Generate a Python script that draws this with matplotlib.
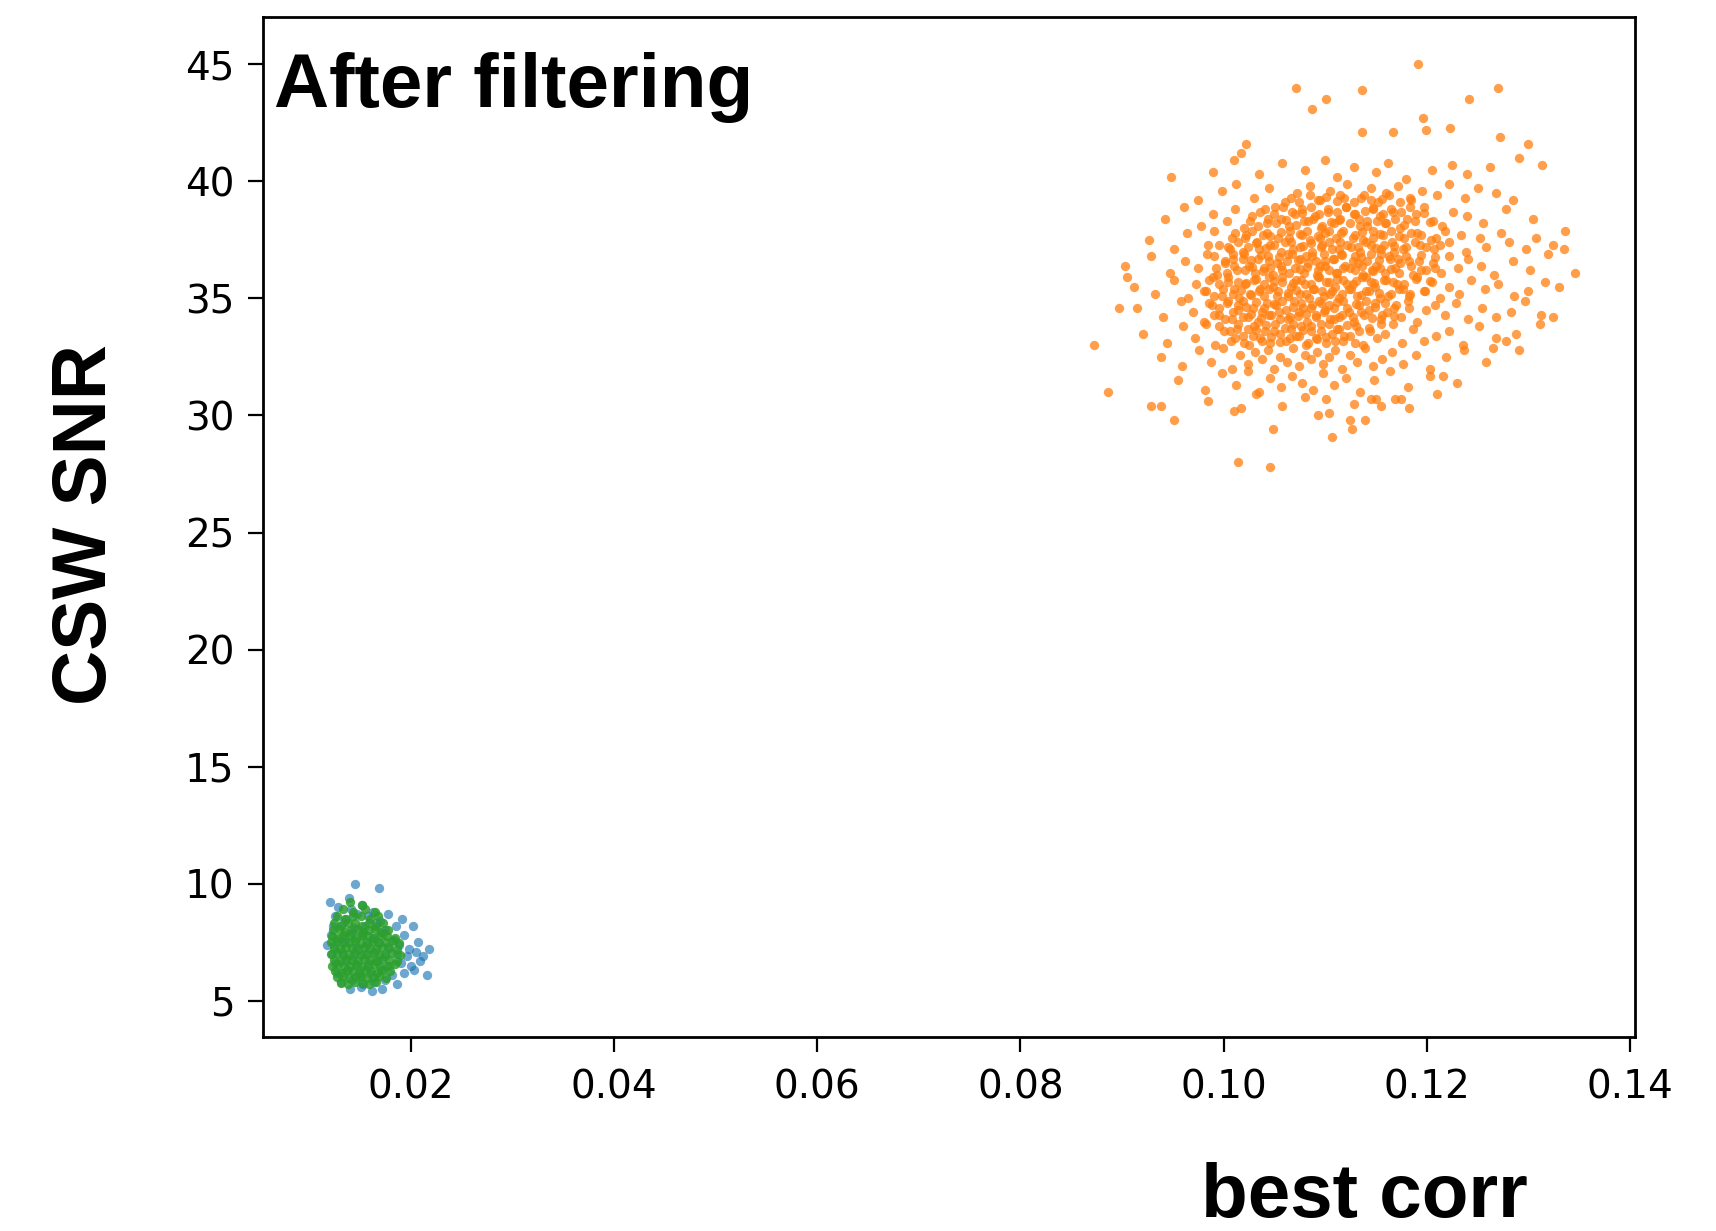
import matplotlib
matplotlib.use("Agg")
import matplotlib.pyplot as plt

# ---- data: best corr vs CSW SNR, three groups after filtering ----

# group 0 (blue)
blue_corr = [
    0.0145, 0.0169, 0.0120, 0.0139, 0.0191, 0.0202, 0.0218, 0.0216, 0.0118,
    0.0128, 0.0141, 0.0152, 0.0163,
    0.0125, 0.0136, 0.0147, 0.0158, 0.0170, 0.0178,
    0.0123, 0.0133, 0.0144, 0.0155, 0.0166, 0.0175, 0.0185,
    0.0121, 0.0131, 0.0142, 0.0152, 0.0163, 0.0173, 0.0183, 0.0193,
    0.0124, 0.0135, 0.0146, 0.0157, 0.0168, 0.0178, 0.0188, 0.0198, 0.0207,
    0.0122, 0.0132, 0.0143, 0.0154, 0.0165, 0.0175, 0.0186, 0.0196, 0.0205, 0.0212,
    0.0125, 0.0136, 0.0147, 0.0158, 0.0168, 0.0179, 0.0190, 0.0200, 0.0209,
    0.0127, 0.0138, 0.0149, 0.0160, 0.0171, 0.0182, 0.0193, 0.0203,
    0.0131, 0.0142, 0.0153, 0.0164, 0.0175, 0.0186,
    0.0140, 0.0151, 0.0162, 0.0172,
]
blue_snr = [
    10.0, 9.8, 9.2, 9.4, 8.5, 8.2, 7.2, 6.1, 7.4,
    9.0, 8.9, 9.1, 8.8,
    8.6, 8.5, 8.7, 8.6, 8.4, 8.7,
    8.2, 8.3, 8.1, 8.2, 8.3, 8.0, 8.2,
    7.8, 7.7, 7.9, 7.8, 7.7, 7.9, 7.6, 7.8,
    7.4, 7.5, 7.3, 7.4, 7.5, 7.3, 7.4, 7.2, 7.5,
    7.0, 7.1, 6.9, 7.0, 7.1, 6.9, 7.0, 6.9, 7.1, 6.9,
    6.6, 6.7, 6.5, 6.6, 6.7, 6.5, 6.6, 6.5, 6.7,
    6.2, 6.3, 6.1, 6.2, 6.3, 6.1, 6.2, 6.3,
    5.8, 5.9, 5.7, 5.8, 5.9, 5.7,
    5.5, 5.6, 5.4, 5.5,
]

# group 1 (orange)
orange_corr = [
    # sparse edge
    0.1191, 0.1071, 0.1136, 0.1101, 0.1087, 0.1270, 0.1242, 0.1196, 0.1199, 0.1223,
    0.1167, 0.1136, 0.1272, 0.1300, 0.1291, 0.1313, 0.0948, 0.1022, 0.1017, 0.1346,
    0.1335, 0.1324, 0.1311, 0.1291, 0.0872, 0.0886, 0.0897, 0.0905, 0.0929, 0.0938,
    0.0951, 0.1014, 0.1046, 0.1049, 0.1107, 0.1126, 0.1124, 0.1139, 0.1017, 0.1101,
    0.1093, 0.1155, 0.1169, 0.1175, 0.1145, 0.1216, 0.1265, 0.1278,
    # 40-41
    0.1035, 0.1058, 0.1080, 0.1100, 0.1112, 0.1128, 0.1150, 0.1162, 0.1180, 0.1205,
    0.1225, 0.1240, 0.1262, 0.0990, 0.1010,
    # 39-40
    0.0975, 0.0998, 0.1012, 0.1030, 0.1045, 0.1060, 0.1072, 0.1085, 0.1095, 0.1105,
    0.1115, 0.1122, 0.1135, 0.1145, 0.1152, 0.1160, 0.1172, 0.1185, 0.1195, 0.1210,
    0.1222, 0.1238, 0.1250, 0.1268, 0.1285,
    # 38-39
    0.0942, 0.0961, 0.0978, 0.0990, 0.1003, 0.1011, 0.1020, 0.1028, 0.1036, 0.1043,
    0.1051, 0.1057, 0.1064, 0.1070, 0.1077, 0.1083, 0.1090, 0.1096, 0.1103, 0.1109,
    0.1115, 0.1121, 0.1128, 0.1134, 0.1141, 0.1147, 0.1154, 0.1160, 0.1167, 0.1174,
    0.1181, 0.1189, 0.1197, 0.1206, 0.1215, 0.1226, 0.1240, 0.1255, 0.1278, 0.1305,
    # 37-38
    0.0927, 0.0951, 0.0964, 0.0985, 0.0991, 0.1004, 0.1008, 0.1019, 0.1022, 0.1033,
    0.1035, 0.1043, 0.1046, 0.1054, 0.1057, 0.1065, 0.1066, 0.1075, 0.1077, 0.1085,
    0.1087, 0.1095, 0.1097, 0.1104, 0.1107, 0.1115, 0.1116, 0.1125, 0.1127, 0.1134,
    0.1137, 0.1145, 0.1147, 0.1155, 0.1157, 0.1166, 0.1168, 0.1178, 0.1180, 0.1190,
    0.1193, 0.1204, 0.1207, 0.1218, 0.1222, 0.1234, 0.1239, 0.1252, 0.1258, 0.1273,
    0.1281, 0.1298, 0.1308, 0.1324, 0.1336,
    # 36-37
    0.0903, 0.0929, 0.0947, 0.0962, 0.0975, 0.0984, 0.0994, 0.1001, 0.1009, 0.1013,
    0.1020, 0.1025, 0.1031, 0.1034, 0.1040, 0.1044, 0.1049, 0.1053, 0.1058, 0.1062,
    0.1067, 0.1070, 0.1075, 0.1079, 0.1083, 0.1087, 0.1092, 0.1095, 0.1100, 0.1104,
    0.1108, 0.1112, 0.1116, 0.1120, 0.1124, 0.1129, 0.1132, 0.1137, 0.1141, 0.1146,
    0.1150, 0.1155, 0.1159, 0.1164, 0.1169, 0.1174, 0.1180, 0.1186, 0.1192, 0.1199,
    0.1206, 0.1214, 0.1222, 0.1231, 0.1241, 0.1253, 0.1266, 0.1285, 0.1302, 0.1319,
    # 35-36
    0.0912, 0.0933, 0.0951, 0.0965, 0.0973, 0.0983, 0.0990, 0.0998, 0.1004, 0.1010,
    0.1015, 0.1021, 0.1026, 0.1030, 0.1036, 0.1040, 0.1045, 0.1049, 0.1054, 0.1058,
    0.1063, 0.1066, 0.1071, 0.1075, 0.1080, 0.1084, 0.1088, 0.1093, 0.1097, 0.1101,
    0.1105, 0.1110, 0.1114, 0.1118, 0.1123, 0.1127, 0.1131, 0.1136, 0.1140, 0.1145,
    0.1149, 0.1154, 0.1160, 0.1165, 0.1171, 0.1177, 0.1183, 0.1190, 0.1197, 0.1205,
    0.1213, 0.1222, 0.1232, 0.1244, 0.1257, 0.1270, 0.1286, 0.1300, 0.1316, 0.1330,
    # 34-35
    0.0915, 0.0940, 0.0958, 0.0970, 0.0981, 0.0989, 0.0996, 0.1003, 0.1008, 0.1014,
    0.1019, 0.1024, 0.1029, 0.1034, 0.1038, 0.1043, 0.1047, 0.1052, 0.1056, 0.1061,
    0.1065, 0.1069, 0.1074, 0.1078, 0.1082, 0.1087, 0.1091, 0.1096, 0.1100, 0.1105,
    0.1109, 0.1114, 0.1118, 0.1123, 0.1128, 0.1133, 0.1138, 0.1143, 0.1149, 0.1155,
    0.1161, 0.1168, 0.1175, 0.1182, 0.1190, 0.1199, 0.1208, 0.1218, 0.1229, 0.1241,
    0.1254, 0.1268, 0.1283, 0.1297, 0.1312,
    # 33-34
    0.0921, 0.0944, 0.0960, 0.0972, 0.0983, 0.0992, 0.1000, 0.1007, 0.1013, 0.1019,
    0.1025, 0.1030, 0.1036, 0.1041, 0.1046, 0.1051, 0.1056, 0.1061, 0.1066, 0.1071,
    0.1076, 0.1081, 0.1086, 0.1091, 0.1096, 0.1101, 0.1107, 0.1112, 0.1118, 0.1124,
    0.1130, 0.1137, 0.1144, 0.1151, 0.1159, 0.1167, 0.1176, 0.1186, 0.1197, 0.1209,
    0.1222, 0.1236, 0.1251, 0.1268, 0.1288,
    # 32-33
    0.0938, 0.0959, 0.0976, 0.0988, 0.0999, 0.1008, 0.1016, 0.1024, 0.1031, 0.1038,
    0.1044, 0.1050, 0.1056, 0.1062, 0.1068, 0.1074, 0.1080, 0.1086, 0.1092, 0.1098,
    0.1104, 0.1110, 0.1117, 0.1124, 0.1131, 0.1139, 0.1147, 0.1156, 0.1166, 0.1177,
    0.1189, 0.1203, 0.1219, 0.1237, 0.1258,
    # 31-32
    0.0955, 0.0982, 0.0998, 0.1012, 0.1024, 0.1035, 0.1046, 0.1057, 0.1067, 0.1077,
    0.1088, 0.1098, 0.1109, 0.1121, 0.1134, 0.1148, 0.1164, 0.1182, 0.1203, 0.1230,
    # 30-31
    0.0985, 0.1010, 0.1032, 0.1058, 0.1080, 0.1104, 0.1128, 0.1150, 0.1183, 0.1210,
    # dense middle
    0.1066, 0.1074, 0.1085, 0.1093, 0.1101, 0.1112, 0.1119, 0.1128, 0.1138, 0.1145,
    0.1156, 0.1163, 0.1174, 0.1184,
    0.1041, 0.1050, 0.1059, 0.1067, 0.1077, 0.1086, 0.1094, 0.1103, 0.1112, 0.1121,
    0.1129, 0.1139, 0.1147, 0.1157, 0.1165, 0.1175, 0.1184, 0.1197,
    0.1026, 0.1034, 0.1044, 0.1052, 0.1061, 0.1071, 0.1079, 0.1088, 0.1097, 0.1106,
    0.1114, 0.1124, 0.1133, 0.1141, 0.1151, 0.1159, 0.1169, 0.1178, 0.1188, 0.1203,
    0.1011, 0.1021, 0.1028, 0.1039, 0.1046, 0.1057, 0.1064, 0.1075, 0.1082, 0.1093,
    0.1100, 0.1111, 0.1118, 0.1129, 0.1136, 0.1147, 0.1154, 0.1165, 0.1173, 0.1185,
    0.1194, 0.1209,
    0.0996, 0.1006, 0.1014, 0.1024, 0.1032, 0.1042, 0.1050, 0.1060, 0.1068, 0.1078,
    0.1086, 0.1096, 0.1104, 0.1114, 0.1122, 0.1132, 0.1140, 0.1150, 0.1158, 0.1168,
    0.1177, 0.1188, 0.1199, 0.1213,
    0.0991, 0.1001, 0.1009, 0.1019, 0.1027, 0.1037, 0.1045, 0.1055, 0.1063, 0.1073,
    0.1081, 0.1091, 0.1099, 0.1109, 0.1117, 0.1127, 0.1135, 0.1145, 0.1153, 0.1163,
    0.1172, 0.1183, 0.1194, 0.1208,
    0.0993, 0.1003, 0.1010, 0.1021, 0.1028, 0.1039, 0.1046, 0.1057, 0.1064, 0.1075,
    0.1082, 0.1093, 0.1100, 0.1111, 0.1118, 0.1129, 0.1136, 0.1147, 0.1154, 0.1165,
    0.1173, 0.1185, 0.1194, 0.1208,
    0.0986, 0.0996, 0.1004, 0.1014, 0.1022, 0.1032, 0.1040, 0.1050, 0.1058, 0.1068,
    0.1076, 0.1086, 0.1094, 0.1104, 0.1112, 0.1122, 0.1130, 0.1140, 0.1148, 0.1158,
    0.1167, 0.1178, 0.1189, 0.1203,
    0.0981, 0.0991, 0.0999, 0.1009, 0.1017, 0.1027, 0.1035, 0.1045, 0.1053, 0.1063,
    0.1071, 0.1081, 0.1089, 0.1099, 0.1107, 0.1117, 0.1125, 0.1135, 0.1143, 0.1153,
    0.1162, 0.1173, 0.1184, 0.1198,
    0.0986, 0.0996, 0.1004, 0.1014, 0.1022, 0.1032, 0.1040, 0.1050, 0.1058, 0.1068,
    0.1076, 0.1086, 0.1094, 0.1104, 0.1112, 0.1122, 0.1130, 0.1140, 0.1149, 0.1159,
    0.1170, 0.1183,
    0.0991, 0.1001, 0.1009, 0.1019, 0.1027, 0.1037, 0.1045, 0.1055, 0.1063, 0.1073,
    0.1081, 0.1091, 0.1099, 0.1109, 0.1117, 0.1127, 0.1135, 0.1146, 0.1156, 0.1168,
    0.0996, 0.1006, 0.1014, 0.1024, 0.1032, 0.1042, 0.1050, 0.1060, 0.1068, 0.1078,
    0.1086, 0.1096, 0.1104, 0.1114, 0.1122, 0.1133, 0.1143, 0.1155,
    0.1011, 0.1020, 0.1029, 0.1038, 0.1047, 0.1056, 0.1065, 0.1074, 0.1083, 0.1092,
    0.1101, 0.1110, 0.1119, 0.1129,
]
orange_snr = [
    45.0, 44.0, 43.9, 43.5, 43.1, 44.0, 43.5, 42.7, 42.2, 42.3,
    42.1, 42.1, 41.9, 41.6, 41.0, 40.7, 40.2, 41.6, 41.2, 36.1,
    37.1, 34.2, 33.9, 32.8, 33.0, 31.0, 34.6, 35.9, 30.4, 30.4,
    29.8, 28.0, 27.8, 29.4, 29.1, 29.4, 29.8, 29.8, 30.3, 30.7,
    30.0, 30.4, 30.7, 30.7, 30.7, 31.7, 32.9, 33.2,
    40.3, 40.8, 40.5, 40.9, 40.2, 40.6, 40.4, 40.8, 40.1, 40.5,
    40.7, 40.3, 40.6, 40.4, 40.9,
    39.2, 39.6, 39.9, 39.3, 39.7, 39.1, 39.5, 39.8, 39.2, 39.6,
    39.4, 39.9, 39.3, 39.7, 39.1, 39.5, 39.8, 39.2, 39.6, 39.4,
    39.9, 39.3, 39.7, 39.5, 39.2,
    38.4, 38.9, 38.1, 38.6, 38.3, 38.8, 38.0, 38.5, 38.7, 38.2,
    38.9, 38.4, 38.1, 38.6, 38.8, 38.3, 38.5, 38.0, 38.7, 38.2,
    38.4, 38.9, 38.6, 38.1, 38.3, 38.8, 38.5, 38.2, 38.7, 38.0,
    38.4, 38.6, 38.9, 38.3, 38.1, 38.7, 38.5, 38.2, 38.8, 38.4,
    37.5, 37.1, 37.8, 37.3, 37.9, 37.2, 37.6, 37.0, 37.7, 37.4,
    37.1, 37.8, 37.3, 37.6, 37.0, 37.9, 37.4, 37.2, 37.7, 37.5,
    37.0, 37.6, 37.3, 37.9, 37.1, 37.4, 37.8, 37.2, 37.6, 37.0,
    37.5, 37.3, 37.9, 37.1, 37.7, 37.4, 37.0, 37.6, 37.2, 37.8,
    37.3, 37.5, 37.1, 37.9, 37.4, 37.7, 37.0, 37.6, 37.2, 37.8,
    37.4, 37.1, 37.6, 37.3, 37.9,
    36.4, 36.8, 36.1, 36.6, 36.3, 36.9, 36.0, 36.5, 36.7, 36.2,
    36.9, 36.4, 36.1, 36.7, 36.3, 36.8, 36.0, 36.5, 36.2, 36.6,
    36.9, 36.3, 36.7, 36.1, 36.5, 36.8, 36.0, 36.4, 36.6, 36.2,
    36.7, 36.1, 36.9, 36.4, 36.3, 36.8, 36.5, 36.0, 36.6, 36.2,
    36.4, 36.9, 36.1, 36.7, 36.3, 36.5, 36.8, 36.0, 36.6, 36.2,
    36.5, 36.1, 36.8, 36.3, 36.7, 36.4, 36.0, 36.6, 36.2, 36.9,
    35.5, 35.2, 35.8, 35.0, 35.6, 35.3, 35.9, 35.1, 35.7, 35.4,
    35.0, 35.6, 35.2, 35.8, 35.4, 35.1, 35.9, 35.5, 35.3, 35.7,
    35.1, 35.5, 35.8, 35.2, 35.6, 35.0, 35.4, 35.9, 35.3, 35.7,
    35.2, 35.5, 35.0, 35.8, 35.4, 35.6, 35.1, 35.9, 35.3, 35.7,
    35.5, 35.0, 35.8, 35.2, 35.6, 35.4, 35.1, 35.9, 35.3, 35.7,
    35.0, 35.5, 35.2, 35.8, 35.4, 35.6, 35.1, 35.3, 35.7, 35.5,
    34.6, 34.2, 34.9, 34.4, 34.0, 34.7, 34.3, 34.8, 34.1, 34.5,
    34.9, 34.2, 34.6, 34.0, 34.4, 34.8, 34.3, 34.7, 34.1, 34.5,
    34.2, 34.9, 34.4, 34.6, 34.0, 34.7, 34.3, 34.8, 34.5, 34.1,
    34.6, 34.2, 34.9, 34.4, 34.0, 34.7, 34.3, 34.5, 34.8, 34.1,
    34.4, 34.6, 34.2, 34.9, 34.0, 34.5, 34.7, 34.3, 34.8, 34.1,
    34.6, 34.2, 34.4, 34.9, 34.3,
    33.5, 33.1, 33.8, 33.3, 33.9, 33.0, 33.6, 33.2, 33.7, 33.4,
    33.0, 33.8, 33.3, 33.6, 33.1, 33.9, 33.5, 33.2, 33.7, 33.4,
    33.8, 33.0, 33.6, 33.3, 33.9, 33.1, 33.5, 33.7, 33.2, 33.4,
    33.8, 33.0, 33.6, 33.3, 33.5, 33.9, 33.1, 33.7, 33.2, 33.4,
    33.6, 33.0, 33.8, 33.3, 33.5,
    32.5, 32.1, 32.8, 32.3, 32.9, 32.0, 32.6, 32.2, 32.7, 32.4,
    32.8, 32.0, 32.5, 32.3, 32.9, 32.1, 32.6, 32.4, 32.7, 32.2,
    32.5, 32.8, 32.0, 32.6, 32.3, 32.9, 32.1, 32.4, 32.7, 32.2,
    32.6, 32.0, 32.5, 32.8, 32.3,
    31.5, 31.1, 31.8, 31.3, 31.9, 31.0, 31.6, 31.2, 31.7, 31.4,
    31.1, 31.8, 31.3, 31.6, 31.0, 31.5, 31.9, 31.2, 31.7, 31.4,
    30.6, 30.2, 30.9, 30.4, 30.8, 30.1, 30.5, 30.7, 30.3, 30.9,
    # dense middle
    39.3, 39.1, 39.4, 39.2, 39.35, 39.15, 39.3, 39.1, 39.4, 39.2,
    39.25, 39.4, 39.1, 39.3,
    38.8, 38.6, 38.9, 38.7, 38.65, 38.9, 38.6, 38.8, 38.7, 38.9,
    38.6, 38.75, 38.85, 38.6, 38.8, 38.7, 38.9, 38.65,
    38.3, 38.1, 38.4, 38.2, 38.35, 38.15, 38.3, 38.4, 38.1, 38.25,
    38.35, 38.2, 38.4, 38.1, 38.3, 38.2, 38.4, 38.15, 38.3, 38.25,
    37.8, 37.6, 37.9, 37.7, 37.65, 37.85, 37.6, 37.75, 37.9, 37.65,
    37.8, 37.6, 37.9, 37.7, 37.85, 37.6, 37.75, 37.9, 37.65, 37.8,
    37.7, 37.6,
    37.3, 37.1, 37.4, 37.2, 37.35, 37.15, 37.3, 37.4, 37.1, 37.25,
    37.35, 37.2, 37.4, 37.1, 37.3, 37.2, 37.4, 37.15, 37.3, 37.25,
    37.1, 37.4, 37.2, 37.3,
    36.8, 36.6, 36.9, 36.7, 36.65, 36.85, 36.6, 36.75, 36.9, 36.65,
    36.8, 36.6, 36.9, 36.7, 36.85, 36.6, 36.75, 36.9, 36.65, 36.8,
    36.7, 36.6, 36.85, 36.75,
    36.3, 36.1, 36.4, 36.2, 36.35, 36.15, 36.3, 36.4, 36.1, 36.25,
    36.35, 36.2, 36.4, 36.1, 36.3, 36.2, 36.4, 36.15, 36.3, 36.25,
    36.1, 36.4, 36.2, 36.3,
    35.8, 35.6, 35.9, 35.7, 35.65, 35.85, 35.6, 35.75, 35.9, 35.65,
    35.8, 35.6, 35.9, 35.7, 35.85, 35.6, 35.75, 35.9, 35.65, 35.8,
    35.7, 35.6, 35.85, 35.75,
    35.3, 35.1, 35.4, 35.2, 35.35, 35.15, 35.3, 35.4, 35.1, 35.25,
    35.35, 35.2, 35.4, 35.1, 35.3, 35.2, 35.4, 35.15, 35.3, 35.25,
    35.1, 35.4, 35.2, 35.3,
    34.8, 34.6, 34.9, 34.7, 34.65, 34.85, 34.6, 34.75, 34.9, 34.65,
    34.8, 34.6, 34.9, 34.7, 34.85, 34.6, 34.75, 34.9, 34.65, 34.8,
    34.7, 34.6,
    34.3, 34.1, 34.4, 34.2, 34.35, 34.15, 34.3, 34.4, 34.1, 34.25,
    34.35, 34.2, 34.4, 34.1, 34.3, 34.2, 34.4, 34.15, 34.3, 34.25,
    33.8, 33.6, 33.9, 33.7, 33.65, 33.85, 33.6, 33.75, 33.9, 33.65,
    33.8, 33.6, 33.9, 33.7, 33.85, 33.6, 33.75, 33.9,
    33.3, 33.1, 33.4, 33.2, 33.35, 33.15, 33.3, 33.4, 33.1, 33.25,
    33.35, 33.2, 33.4, 33.1,
]

# group 2 (green)
green_corr = [
    0.0140, 0.0152,
    0.0133, 0.0143, 0.0155, 0.0165,
    0.0127, 0.0135, 0.0143, 0.0151, 0.0160, 0.0168,
    0.0124, 0.0131, 0.0138, 0.0145, 0.0152, 0.0159, 0.0166, 0.0173,
    0.0123, 0.0129, 0.0135, 0.0141, 0.0147, 0.0153, 0.0159, 0.0165, 0.0171, 0.0178,
    0.0122, 0.0128, 0.0134, 0.0140, 0.0146, 0.0152, 0.0158, 0.0164, 0.0170, 0.0177, 0.0184,
    0.0121, 0.0127, 0.0133, 0.0139, 0.0145, 0.0151, 0.0157, 0.0163, 0.0169, 0.0175, 0.0182, 0.0188,
    0.0124, 0.0130, 0.0136, 0.0142, 0.0148, 0.0154, 0.0160, 0.0166, 0.0172, 0.0179, 0.0186,
    0.0121, 0.0127, 0.0133, 0.0139, 0.0145, 0.0151, 0.0157, 0.0163, 0.0169, 0.0175, 0.0182, 0.0189,
    0.0124, 0.0130, 0.0136, 0.0142, 0.0148, 0.0154, 0.0160, 0.0166, 0.0172, 0.0179, 0.0186,
    0.0122, 0.0128, 0.0134, 0.0140, 0.0146, 0.0152, 0.0158, 0.0164, 0.0170, 0.0177, 0.0184,
    0.0125, 0.0131, 0.0137, 0.0143, 0.0149, 0.0155, 0.0161, 0.0167, 0.0173, 0.0180,
    0.0127, 0.0133, 0.0139, 0.0145, 0.0151, 0.0157, 0.0163, 0.0169, 0.0176,
    0.0131, 0.0138, 0.0145, 0.0152, 0.0159, 0.0166,
]
green_snr = [
    9.2, 9.1,
    8.9, 8.8, 8.9, 8.8,
    8.6, 8.5, 8.6, 8.6, 8.5, 8.6,
    8.3, 8.2, 8.3, 8.3, 8.2, 8.3, 8.2, 8.3,
    8.0, 8.05, 7.95, 8.0, 8.05, 7.95, 8.0, 8.05, 7.95, 8.0,
    7.75, 7.7, 7.8, 7.75, 7.7, 7.8, 7.75, 7.7, 7.8, 7.75, 7.7,
    7.5, 7.55, 7.45, 7.5, 7.55, 7.45, 7.5, 7.55, 7.45, 7.5, 7.55, 7.45,
    7.25, 7.2, 7.3, 7.25, 7.2, 7.3, 7.25, 7.2, 7.3, 7.25, 7.2,
    7.0, 7.05, 6.95, 7.0, 7.05, 6.95, 7.0, 7.05, 6.95, 7.0, 7.05, 6.95,
    6.75, 6.7, 6.8, 6.75, 6.7, 6.8, 6.75, 6.7, 6.8, 6.75, 6.7,
    6.5, 6.55, 6.45, 6.5, 6.55, 6.45, 6.5, 6.55, 6.45, 6.5, 6.55,
    6.25, 6.2, 6.3, 6.25, 6.2, 6.3, 6.25, 6.2, 6.3, 6.25,
    6.0, 6.05, 5.95, 6.0, 6.05, 5.95, 6.0, 6.05, 5.95,
    5.75, 5.7, 5.8, 5.75, 5.7, 5.8,
]

x_ticks = [0.02, 0.04, 0.06, 0.08, 0.10, 0.12, 0.14]
y_ticks = [5, 10, 15, 20, 25, 30, 35, 40, 45]

fig = plt.figure(figsize=(17.16, 12.31), dpi=100)
ax = fig.add_axes([0.1533, 0.1576, 0.7995, 0.8282])

ax.scatter(blue_corr, blue_snr, s=45, color="#1f77b4", alpha=0.65, linewidths=0)
ax.scatter(orange_corr, orange_snr, s=45, color="#ff7f0e", alpha=0.75, linewidths=0)
ax.scatter(green_corr, green_snr, s=45, color="#2ca02c", alpha=0.85, linewidths=0)

ax.set_xlim(0.00546, 0.1405)
ax.set_ylim(3.45, 47.0)
ax.set_xticks(x_ticks)
ax.set_xticklabels(["%.2f" % v for v in x_ticks])
ax.set_yticks(y_ticks)
ax.tick_params(labelsize=28, length=10.5, width=1.6)
ax.tick_params(axis="x", pad=12)
ax.tick_params(axis="y", pad=10)
for sp in ax.spines.values():
    sp.set_linewidth(2.0)

bold = dict(family="Liberation Sans", weight="bold", size=55)
fig.text(0.1597, 0.913, "After filtering", ha="left", va="baseline", **bold)
fig.text(0.0504, 0.5735, "CSW SNR", rotation=90, ha="center", va="center", **bold)
fig.text(0.795, 0.011, "best corr", ha="center", va="baseline", **bold)

fig.savefig("out.png", dpi=100)
